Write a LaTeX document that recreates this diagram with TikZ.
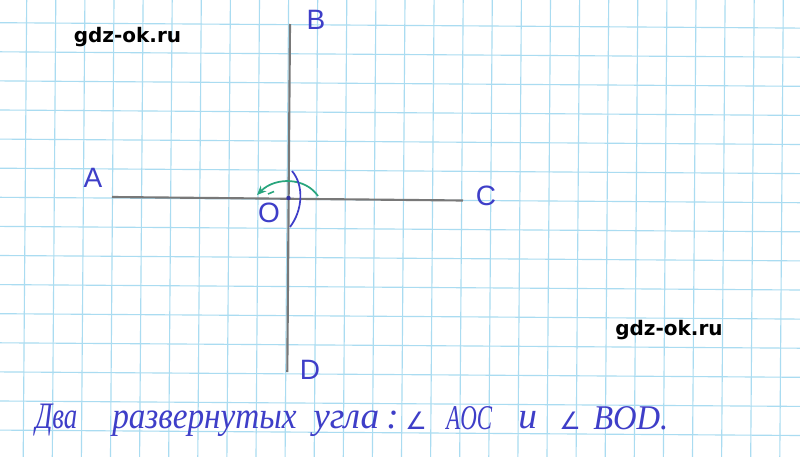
\documentclass[tikz,border=0pt]{standalone}
\usepackage{fontspec}
\setmainfont{Liberation Serif}
\newfontfamily\wmfont{DejaVu Sans}
\newfontfamily\lblfont{Liberation Sans}
\newfontfamily\symfont{DejaVu Sans}
\usetikzlibrary{arrows.meta}
\definecolor{gridblue}{RGB}{170,220,241}
\definecolor{inkblue}{RGB}{62,62,200}
\definecolor{inkgreen}{RGB}{40,165,125}
\definecolor{pencil}{RGB}{120,120,120}
\tikzset{
  gridline/.style={draw=gridblue, line width=0.85pt},
  segline/.style={draw=pencil, line width=1.6pt},
  ptlabel/.style={inner sep=0pt, text=inkblue, font=\lblfont\fontsize{21}{24}\selectfont},
  wm/.style={inner sep=0pt, anchor=base, font=\wmfont\bfseries\fontsize{15}{18}\selectfont},
  hw/.style={inner sep=0pt, anchor=base west, text=inkblue, font=\itshape\fontsize{28}{32}\selectfont},
  hwcap/.style={inner sep=0pt, anchor=base west, text=inkblue, font=\itshape\fontsize{26}{30}\selectfont},
  hwsym/.style={inner sep=0pt, anchor=base west, text=inkblue, font=\symfont\fontsize{18}{21}\selectfont},
}
\begin{document}
\begin{tikzpicture}[x=0.75pt,y=-0.75pt]
\useasboundingbox (0,0) rectangle (800,457);
\fill[white] (0,0) rectangle (800,457);
% grid paper
\foreach \k in {0,...,27} \draw[gridline] ({26.7+29.1*\k},0) -- ({23.2+29.1*\k},457);
\foreach \j in {0,...,14} \draw[gridline] (0,{22.7+29.1*\j}) -- (800,{28.1+29.1*\j});
% lines
\coordinate (A0) at (112,197);
\coordinate (C0) at (463,200.5);
\coordinate (B0) at (290,24);
\coordinate (D0) at (287.3,372);
\coordinate (O0) at (288.5,198);
\draw[segline] (A0) -- (C0);
\draw[segline] (B0) -- (D0);
\fill[inkblue!80!black] (O0) circle (2.2);
% arcs
\coordinate (g1) at (318,196);
\coordinate (g2) at (257,195);
\draw[inkgreen, line width=1.3pt, -{Stealth[length=7pt,width=6pt]}] (g1) .. controls (305,177) and (275,177) .. (g2);
\coordinate (d1) at (268,194);
\coordinate (d2) at (274,191.5);
\draw[inkgreen, line width=1.2pt] (d1) -- (d2);
\coordinate (b1) at (292,171);
\coordinate (b2) at (290,227);
\draw[inkblue, line width=1.3pt] (b1) .. controls (304,185) and (303,210) .. (b2);
% point labels
\node[ptlabel] (A) at (93,178) {A};
\node[ptlabel] (B) at (316,20) {B};
\node[ptlabel] (C) at (486,196) {C};
\node[ptlabel] (D) at (310,370) {D};
\node[ptlabel] (O) at (269,213) {O};
% watermarks
\node[wm] (w1) at (127.5,42) {gdz-ok.ru};
\node[wm] (w2) at (669,335) {gdz-ok.ru};
% handwritten sentence
\node[hw] (t1) at (35,428) {\scalebox{0.72}[1]{Два}};
\node[hw] (t2) at (112,428) {\scalebox{0.89}[1]{развернутых}};
\node[hw] (t3) at (313,428) {угла};
\node[hw] (t4) at (386,428) {:};
\node[hwsym] (t5) at (405,429) {∠};
\node[hwcap] (t6) at (446,429) {\scalebox{0.66}[1]{AOC}};
\node[hw] (t7) at (518,428) {и};
\node[hwsym] (t8) at (559,429) {∠};
\node[hwcap] (t9) at (593,429) {\scalebox{0.94}[1]{BOD.}};
\end{tikzpicture}
\end{document}
